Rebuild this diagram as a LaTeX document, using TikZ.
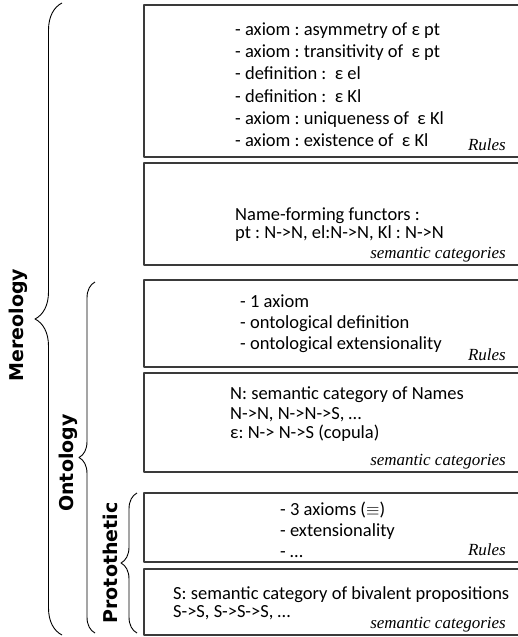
\documentclass[tikz,border=0pt]{standalone}
\usepackage{fontspec}
\setmainfont{Carlito}
\newfontfamily\catfont{Liberation Serif}
\newfontfamily\sidefont{DejaVu Sans}
\usetikzlibrary{decorations.pathreplacing}
\definecolor{boxgray}{HTML}{3A3A3A}
\frenchspacing

\begin{document}
\begin{tikzpicture}[x=1pt, y=-1pt, line join=round,
  box/.style={boxgray, line width=1.3pt},
  txt/.style={anchor=north west, inner sep=0pt, align=left,
    font=\fontsize{18.5}{21}\selectfont},
  cat/.style={anchor=base east, inner sep=0pt,
    font=\catfont\itshape\fontsize{17}{20}\selectfont},
  side/.style={rotate=90, inner sep=0pt,
    font=\sidefont\bfseries\fontsize{19}{22}\selectfont},
  curly/.style={decorate, decoration={brace, amplitude=#1}, line width=0.9pt}]
  \useasboundingbox (0,0) rectangle (517,637);
  % the six boxes, open to the right
  \draw[box] (144,5)   rectangle (530,157);
  \draw[box] (144,163) rectangle (530,265);
  \draw[box] (144,280) rectangle (530,367);
  \draw[box] (144,373) rectangle (530,472);
  \draw[box] (144,493) rectangle (530,562);
  \draw[box] (144,569) rectangle (530,635);
  % mereology
  \node[txt, font=\fontsize{18.5}{22.2}\selectfont] (merrules) at (235,22.5)
    {- axiom : asymmetry of ε pt\\
     - axiom : transitivity of~ ε pt\\
     - definition :~ ε el\\
     - definition :~ ε Kl\\
     - axiom : uniqueness of~ ε Kl\\
     - axiom : existence of~ ε Kl};
  \node[cat] (merrulescat) at (506,150) {Rules};
  \node[txt, font=\fontsize{18.5}{18.5}\selectfont] (mersem) at (235,207.5)
    {Name-forming functors :\\
     pt : N->N, el:N->N, Kl : N->N};
  \node[cat] (mersemcat) at (506,258) {semantic categories};
  % ontology
  \node[txt] (ontrules) at (240,295)
    {- 1 axiom\\
     - ontological definition\\
     - ontological extensionality};
  \node[cat] (ontrulescat) at (506,360) {Rules};
  \node[txt, font=\fontsize{18.5}{19.5}\selectfont] (ontsem) at (230,387)
    {N: semantic category of Names\\
     N->N, N->N->S, …\\
     ε: N-> N->S (copula)};
  \node[cat] (ontsemcat) at (506,465) {semantic categories};
  % protothetic
  \node[txt] (prorules) at (280,502)
    {- 3 axioms ($\equiv$)\\
     - extensionality\\
     - …};
  \node[cat] (prorulescat) at (506,555) {Rules};
  \node[txt, font=\fontsize{18.5}{18.5}\selectfont] (prosem) at (173,586)
    {S: semantic category of bivalent propositions\\
     S->S, S->S->S, …};
  \node[cat] (prosemcat) at (506,628) {semantic categories};
  % braces and their names
  \coordinate (mertop) at (62,3);
  \coordinate (merbot) at (62,635);
  \coordinate (onttop) at (95,282);
  \coordinate (ontbot) at (95,633);
  \coordinate (protop) at (137,493);
  \coordinate (probot) at (137,633);
  \draw[curly=27pt] (merbot) -- (mertop);
  \draw[curly=16pt] (ontbot) -- (onttop);
  \draw[curly=16pt] (probot) -- (protop);
  \node[side] (mer) at (18,325) {Mereology};
  \node[side] (ont) at (68,463) {Ontology};
  \node[side] (pro) at (110,563) {Protothetic};
\end{tikzpicture}
\end{document}
